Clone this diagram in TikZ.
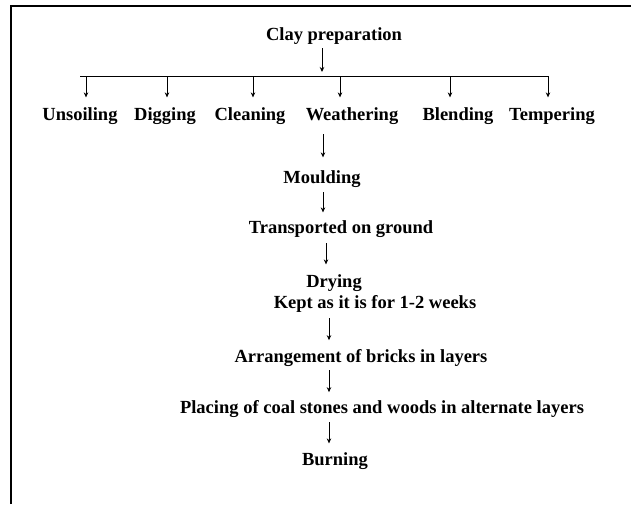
\documentclass[tikz,border=0pt]{standalone}
\usepackage{xcolor}
\usepackage{fontspec}
\setmainfont{Liberation Serif}
\usepackage{tikz}
\usetikzlibrary{positioning,arrows.meta}

\begin{document}
\begin{tikzpicture}[x=1pt, y=1pt,
    lbl/.style={font=\fontsize{18.5}{20}\selectfont\bfseries, inner sep=0pt, anchor=base},
    arr/.style={-{Stealth[length=5pt,width=4.5pt]}, line width=0.9pt}]
\useasboundingbox (0,0) rectangle (631,-504);
\draw[line width=1.8pt] (11,-504) -- (11,-6) -- (631,-6);

\node[lbl] (clay) at (334,-40) {Clay preparation};

\node[lbl] (task_0) at (80,-120) {Unsoiling};
\node[lbl] (task_1) at (165,-120) {Digging};
\node[lbl] (task_2) at (250,-120) {Cleaning};
\node[lbl] (task_3) at (352,-120) {Weathering};
\node[lbl] (task_4) at (458,-120) {Blending};
\node[lbl] (task_5) at (552,-120) {Tempering};

\node[lbl] (stage_1) at (322,-183) {Moulding};
\node[lbl] (stage_2) at (341,-233) {Transported on ground};
\node[lbl] (stage_3) at (334,-287) {Drying};
\node[lbl] (stage_3b) at (375,-308) {Kept as it is for 1-2 weeks};
\node[lbl] (stage_4) at (361,-362) {Arrangement of bricks in layers};
\node[lbl] (stage_5) at (382,-413) {Placing of coal stones and woods in alternate layers};
\node[lbl] (stage_6) at (335,-465) {Burning};

% bar and branches
\coordinate (bar_l) at (80,-76);
\coordinate (bar_c) at (322,-76);
\coordinate (b_0) at (86,-76);
\coordinate (b_1) at (167,-76);
\coordinate (b_2) at (253,-76);
\coordinate (b_3) at (340,-76);
\coordinate (b_4) at (450,-76);
\coordinate (b_5) at (548,-76);

\draw[arr, shorten <=4pt, shorten >=4pt] (clay.south -| bar_c) -- (bar_c);
\draw[line width=0.9pt] (bar_l) -- (b_5);
\foreach \i in {0,...,5}
  \draw[arr, shorten >=9.6pt] (b_\i) -- (b_\i |- task_\i.north);

% main line
\coordinate (s_1) at (323,0);
\coordinate (s_2) at (326,0);
\coordinate (s_3) at (329,0);

\draw[arr, shorten <=10pt, shorten >=12.6pt] (task_3.south -| s_1) -- (stage_1.north -| s_1);
\draw[arr, shorten <=5pt, shorten >=7.6pt] (stage_1.south -| s_1) -- (stage_2.north -| s_1);
\draw[arr, shorten <=6pt, shorten >=9.6pt] (stage_2.south -| s_2) -- (stage_3.north -| s_2);
\draw[arr, shorten <=6pt, shorten >=8.6pt] (stage_3b.south -| s_3) -- (stage_4.north -| s_3);
\draw[arr, shorten <=4pt, shorten >=7.6pt] (stage_4.south -| s_3) -- (stage_5.north -| s_3);
\draw[arr, shorten <=5pt, shorten >=8.6pt] (stage_5.south -| s_3) -- (stage_6.north -| s_3);

\end{tikzpicture}
\end{document}
